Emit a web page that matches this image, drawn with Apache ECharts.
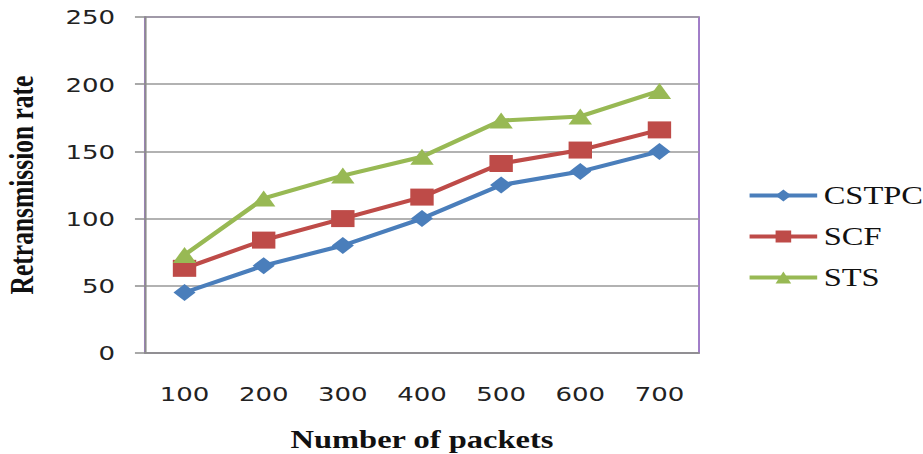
<!DOCTYPE html>
<html>
<head>
<meta charset="utf-8">
<script src="https://cdn.jsdelivr.net/npm/echarts@6/dist/echarts.min.js"></script>
<style>
  html, body { margin: 0; padding: 0; background: #fff; overflow: hidden; }
  /* The chart is laid out on a 710px-wide canvas and widened to 923px */
  #chart { width: 710px; height: 454px; transform: scaleX(1.3); transform-origin: 0 0; }
</style>
</head>
<body>
<div id="chart"></div>
<script>
// Packet counts on the x axis
const packets = ['100', '200', '300', '400', '500', '600', '700'];

// Retransmission rate per scheme
const cstpc = [45, 65, 80, 100, 125, 135, 150];
const scf = [63, 84, 100, 116, 141, 151, 166];
const sts = [73, 115, 132, 146, 173, 176, 195];

const seriesNames = ['CSTPC', 'SCF', 'STS'];
const colors = ['#4a7ebb', '#be4b48', '#98b954'];

const chart = echarts.init(document.getElementById('chart'), null, { renderer: 'svg' });

function lineSeries(name, data, color, symbol, size) {
  return {
    name: name,
    type: 'line',
    data: data,
    symbol: symbol,
    symbolSize: size,
    itemStyle: { color: color },
    lineStyle: { color: color, width: 4 },
    z: 3
  };
}

chart.setOption({
  animation: false,
  grid: {
    left: 111.5, right: 172.3, top: 17, bottom: 101,
    containLabel: false,
    outerBoundsMode: 'none',
    show: true,
    borderColor: '#a07cc8',
    borderWidth: 1.5
  },
  legend: {
    orient: 'vertical',
    left: 574.6,
    top: 183,
    padding: 0,
    itemWidth: 52,
    itemHeight: 15,
    itemGap: 16,
    data: seriesNames,
    lineStyle: { width: 4 },
    textStyle: { fontFamily: 'Liberation Serif', fontSize: 25, color: '#111' }
  },
  xAxis: {
    type: 'category',
    data: packets,
    boundaryGap: true,
    name: 'Number of packets',
    nameLocation: 'middle',
    nameGap: 73.5,
    nameTextStyle: { fontFamily: 'Liberation Serif', fontWeight: 'bold', fontSize: 25, color: '#111' },
    axisLine: { lineStyle: { color: '#8c8c8c', width: 1.5 } },
    axisTick: { alignWithLabel: false, length: 9, lineStyle: { color: '#8c8c8c', width: 1.5 } },
    axisLabel: { fontFamily: 'DejaVu Sans', fontSize: 20, color: '#222', margin: 31 },
    splitLine: { show: false }
  },
  yAxis: {
    type: 'value',
    min: 0, max: 250, interval: 50,
    name: 'Retransmission rate',
    nameLocation: 'middle',
    nameGap: 82,
    nameTextStyle: { fontFamily: 'Liberation Serif', fontWeight: 'bold', fontSize: 25.5, color: '#111' },
    axisLine: { show: true, lineStyle: { color: '#8c8c8c', width: 1.5 } },
    axisTick: { show: true, length: 7.7, lineStyle: { color: '#8c8c8c', width: 1.5 } },
    axisLabel: { fontFamily: 'DejaVu Sans', fontSize: 20, color: '#222', margin: 23 },
    splitLine: { show: true, lineStyle: { color: '#999', width: 1.5 } }
  },
  series: [
    lineSeries(seriesNames[0], cstpc, colors[0], 'diamond', [17, 17]),
    lineSeries(seriesNames[1], scf, colors[1], 'rect', [18, 17]),
    lineSeries(seriesNames[2], sts, colors[2], 'triangle', [18, 16])
  ]
});
</script>
</body>
</html>
